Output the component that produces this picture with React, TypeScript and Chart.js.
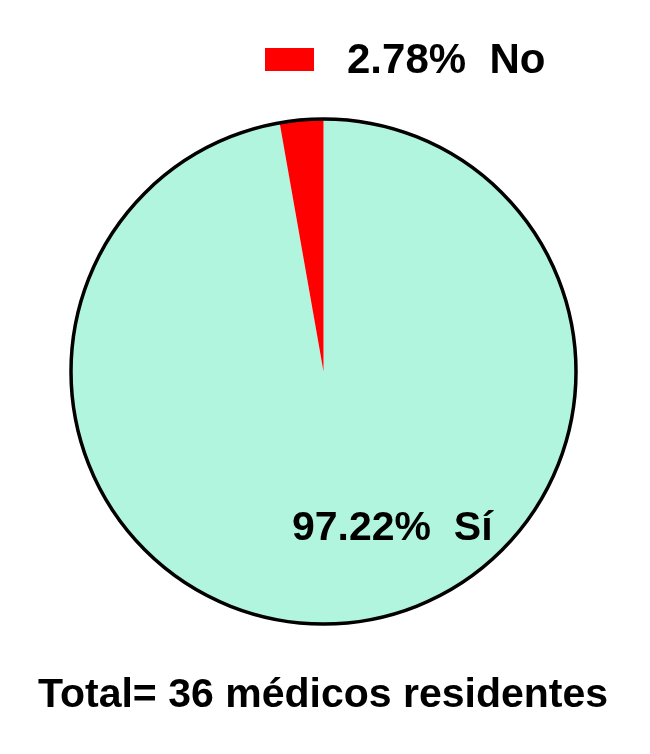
import React, { useEffect, useRef } from "react";
import { Chart, registerables } from "chart.js";

Chart.register(...registerables);

const categories = ["Sí", "No"];
const values = [97.22, 2.78];
const colors = ["#B2F5DE", "#FF0000"];
const totalLabel = "Total= 36 médicos residentes";

const FONT = '"Liberation Sans", Arial, Helvetica, sans-serif';

const fmt = (v: number) => v.toFixed(2) + "%";

const decorPlugin = {
  id: "decor",
  afterDatasetsDraw(chart: any) {
    const ctx = chart.ctx;
    const meta = chart.getDatasetMeta(0);
    const arc = meta.data[0];
    if (!arc) return;
    const { x, y, outerRadius } = arc.getProps(["x", "y", "outerRadius"], true);
    ctx.save();
    ctx.beginPath();
    ctx.arc(x, y, outerRadius, 0, Math.PI * 2);
    ctx.lineWidth = 3.5;
    ctx.strokeStyle = "#000";
    ctx.stroke();
    ctx.restore();
  },
  afterDraw(chart: any) {
    const ctx = chart.ctx;
    const ds = chart.data.datasets[0];
    ctx.save();
    ctx.fillStyle = "#000";
    ctx.textBaseline = "alphabetic";
    ctx.font = `bold 41px ${FONT}`;
    ctx.textAlign = "left";
    ctx.fillText(`${fmt(ds.data[0])}  ${chart.data.labels[0]}`, 292, 540);
    ctx.fillStyle = ds.backgroundColor[1];
    ctx.fillRect(265, 48, 49, 23);
    ctx.fillStyle = "#000";
    ctx.font = `bold 42px ${FONT}`;
    ctx.fillText(`${fmt(ds.data[1])}  ${chart.data.labels[1]}`, 347, 73);
    ctx.font = `bold 41px ${FONT}`;
    ctx.textAlign = "center";
    ctx.fillText(totalLabel, 323, 707);
    ctx.restore();
  },
};

export default function App() {
  const ref = useRef<HTMLCanvasElement>(null);
  useEffect(() => {
    if (!ref.current) return;
    const chart = new Chart(ref.current, {
      type: "pie",
      data: {
        labels: categories,
        datasets: [
          {
            data: values,
            backgroundColor: colors,
            borderWidth: 0,
          },
        ],
      },
      options: {
        responsive: false,
        animation: false,
        layout: { padding: { left: 71, right: 74, top: 119, bottom: 130 } },
        plugins: {
          legend: { display: false },
          tooltip: { enabled: false },
          title: { display: false },
        },
      },
      plugins: [decorPlugin],
    });
    return () => chart.destroy();
  }, []);
  return (
    <div style={{ position: "fixed", left: 0, top: 0, width: 650, height: 754, background: "#fff" }}>
      <canvas ref={ref} width={650} height={754} style={{ width: 650, height: 754 }} />
    </div>
  );
}
